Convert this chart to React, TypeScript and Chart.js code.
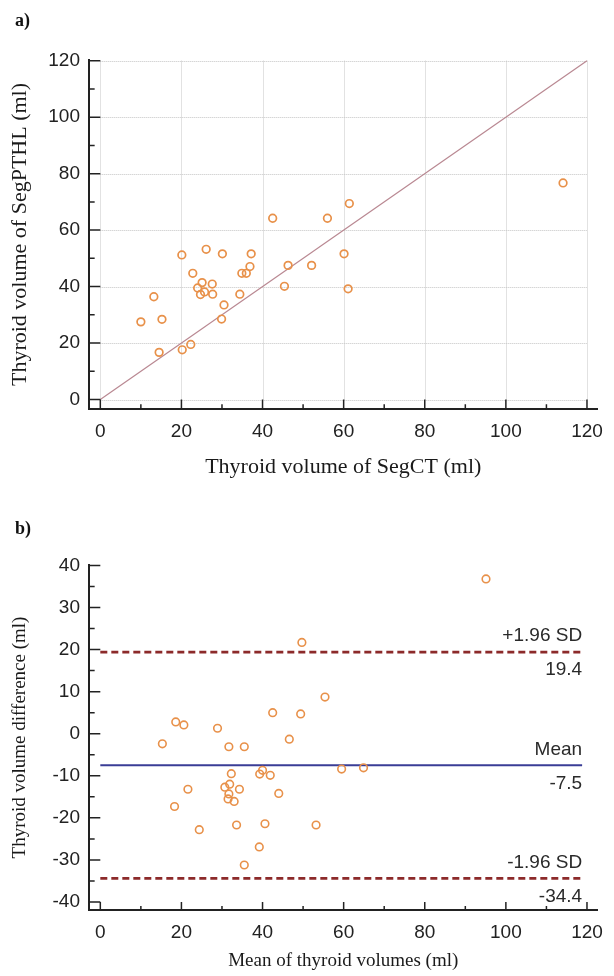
import React, { useEffect, useRef } from 'react';
import { Chart, registerables } from 'chart.js';

Chart.register(...registerables);

// ---------- data (panel a) ----------
const segCT = [61.4, 42.5, 56.0, 20.1, 26.1, 30.1, 37.2, 60.1, 22.8, 34.9, 36.0, 36.9, 46.3, 52.1, 25.1, 27.6, 24.0, 25.7, 24.7, 27.7, 34.4, 45.4, 61.1, 13.2, 30.5, 29.9, 15.2, 10.0, 14.5, 20.2, 22.3, 114.1];
const segPTHL = [69.4, 64.2, 64.2, 51.2, 53.2, 51.6, 51.6, 51.6, 44.7, 44.7, 44.7, 47.1, 47.5, 47.5, 41.4, 40.9, 39.5, 38.1, 37.2, 37.3, 37.3, 40.1, 39.2, 36.4, 33.5, 28.5, 28.4, 27.5, 16.7, 17.6, 19.5, 76.7];
const identityLine = [0, 120];

// ---------- data (panel b) ----------
const meanVolumes = [49.7, 55.4, 42.5, 49.4, 18.6, 20.6, 28.9, 46.6, 15.3, 31.7, 35.5, 32.3, 40.0, 39.3, 41.9, 59.5, 64.9, 21.6, 30.7, 31.9, 34.3, 31.7, 31.5, 33.0, 44.0, 18.3, 24.4, 33.6, 40.6, 53.2, 39.2, 35.5, 95.1];
const diffVolumes = [21.7, 8.7, 5.0, 4.7, 2.8, 2.1, 1.3, -1.3, -2.4, -3.1, -3.1, -9.5, -8.7, -9.6, -9.9, -8.4, -8.1, -13.2, -12.7, -12.0, -13.2, -14.3, -15.5, -16.1, -14.2, -17.3, -22.8, -21.7, -21.4, -21.7, -26.9, -31.2, 36.8];
const limitNames = ['+1.96 SD', 'Mean', '-1.96 SD'];
const limitValues = [19.4, -7.5, -34.4];
const limitLabels = ['19.4', '-7.5', '-34.4'];
const limitSpan = [0, 118.8];

// ---------- ticks ----------
const xTicks = [0, 20, 40, 60, 80, 100, 120];
const xMinorTicks = [10, 30, 50, 70, 90, 110];
const topYTicks = [0, 20, 40, 60, 80, 100, 120];
const topYMinorTicks = [10, 30, 50, 70, 90, 110];
const bottomYTicks = [-40, -30, -20, -10, 0, 10, 20, 30, 40];
const bottomYMinorTicks = [-35, -25, -15, -5, 5, 15, 25, 35];

const SANS = '"Liberation Sans", Arial, sans-serif';
const SERIF = '"Liberation Serif", "Times New Roman", serif';
const ORANGE = '#e8914a';
const AXIS = '#222222';

const axisTicksPlugin = {
  id: 'axisTicks',
  afterDatasetsDraw(chart: any, _a: any, opts: any) {
    const { ctx, chartArea, scales } = chart;
    const xs = scales.x;
    const ys = scales.y;
    const xLen = chartArea.bottom - ys.getPixelForValue(opts.yMajor[0]);
    const yLen = xs.getPixelForValue(opts.xMajor[0]) - chartArea.left;
    ctx.save();
    ctx.strokeStyle = AXIS;
    ctx.lineWidth = 1.5;
    ctx.beginPath();
    const seg = (x1: number, y1: number, x2: number, y2: number) => {
      ctx.moveTo(x1, y1);
      ctx.lineTo(x2, y2);
    };
    opts.xMajor.forEach((v: number) => {
      const p = xs.getPixelForValue(v);
      seg(p, chartArea.bottom, p, chartArea.bottom - xLen);
    });
    opts.xMinor.forEach((v: number) => {
      const p = xs.getPixelForValue(v);
      seg(p, chartArea.bottom, p, chartArea.bottom - xLen * 0.5);
    });
    opts.yMajor.forEach((v: number) => {
      const p = ys.getPixelForValue(v);
      seg(chartArea.left, p, chartArea.left + yLen, p);
    });
    opts.yMinor.forEach((v: number) => {
      const p = ys.getPixelForValue(v);
      seg(chartArea.left, p, chartArea.left + yLen * 0.5, p);
    });
    ctx.stroke();
    ctx.restore();
  },
};

const dottedGridPlugin = {
  id: 'dottedGrid',
  beforeDatasetsDraw(chart: any, _a: any, opts: any) {
    if (!opts || !opts.enabled) return;
    const { ctx, scales } = chart;
    const xs = scales.x;
    const ys = scales.y;
    const xa = xs.getPixelForValue(opts.xTicks[0]);
    const xb = xs.getPixelForValue(opts.xTicks[opts.xTicks.length - 1]);
    const ya = ys.getPixelForValue(opts.yTicks[0]);
    const yb = ys.getPixelForValue(opts.yTicks[opts.yTicks.length - 1]);
    ctx.save();
    ctx.strokeStyle = '#c4c4c4';
    ctx.lineWidth = 1;
    ctx.setLineDash([1, 1]);
    ctx.beginPath();
    opts.xTicks.forEach((v: number) => {
      const p = Math.round(xs.getPixelForValue(v)) + 0.5;
      ctx.moveTo(p, ya);
      ctx.lineTo(p, yb);
    });
    opts.yTicks.forEach((v: number) => {
      const p = Math.round(ys.getPixelForValue(v)) + 0.5;
      ctx.moveTo(xa, p);
      ctx.lineTo(xb, p);
    });
    ctx.stroke();
    ctx.restore();
  },
};

const limitLabelPlugin = {
  id: 'limitLabels',
  afterDatasetsDraw(chart: any, _a: any, opts: any) {
    if (!opts || !opts.enabled) return;
    const { ctx, scales } = chart;
    const xr = scales.x.getPixelForValue(limitSpan[1]);
    ctx.save();
    ctx.fillStyle = '#2a2a2a';
    ctx.font = `19px ${SANS}`;
    ctx.textAlign = 'right';
    ctx.textBaseline = 'middle';
    limitValues.forEach((v, i) => {
      const p = scales.y.getPixelForValue(v);
      ctx.fillText(limitNames[i], xr, p - 16);
      ctx.fillText(limitLabels[i], xr, p + 18);
    });
    ctx.restore();
  },
};

function axisScale(opts: {
  min: number;
  max: number;
  ticks: number[];
  size: number;
  horizontal: boolean;
  title: string;
  titleSize: number;
  titlePadding: any;
  tickPadding: number;
}) {
  return {
    type: 'linear',
    min: opts.min,
    max: opts.max,
    afterBuildTicks: (s: any) => {
      s.ticks = opts.ticks.map((v) => ({ value: v }));
    },
    afterFit: (s: any) => {
      if (opts.horizontal) s.height = opts.size;
      else s.width = opts.size;
    },
    grid: { display: false, drawTicks: false },
    border: { display: true, color: AXIS, width: 2 },
    ticks: {
      padding: opts.tickPadding,
      font: { family: SANS, size: 19 },
      color: '#222',
      autoSkip: false,
      maxRotation: 0,
      callback: (v: any) => String(v),
    },
    title: {
      display: true,
      text: opts.title,
      font: { family: SERIF, size: opts.titleSize },
      color: '#1a1a1a',
      padding: opts.titlePadding,
    },
  };
}

export default function App() {
  const topRef = useRef<HTMLCanvasElement | null>(null);
  const botRef = useRef<HTMLCanvasElement | null>(null);

  useEffect(() => {
    const topChart = new Chart(topRef.current as HTMLCanvasElement, {
      type: 'scatter',
      data: {
        datasets: [
          {
            data: segCT.map((x, i) => ({ x, y: segPTHL[i] })),
            pointRadius: 3.8,
            pointHoverRadius: 3.8,
            pointBorderWidth: 1.7,
            borderColor: ORANGE,
            backgroundColor: 'rgba(255,255,255,0)',
          },
          {
            data: identityLine.map((v) => ({ x: v, y: v })),
            showLine: true,
            borderColor: '#b98892',
            borderWidth: 1.2,
            pointRadius: 0,
          },
        ],
      },
      options: {
        responsive: false,
        animation: false,
        events: [],
        layout: { padding: { top: 60, right: 8, left: 0, bottom: 0 } },
        plugins: {
          legend: { display: false },
          tooltip: { enabled: false },
          axisTicks: { xMajor: xTicks, xMinor: xMinorTicks, yMajor: topYTicks, yMinor: topYMinorTicks },
          dottedGrid: { enabled: true, xTicks, yTicks: topYTicks },
          limitLabels: { enabled: false },
        } as any,
        scales: {
          x: axisScale({
            min: -2.79, max: 122.6, ticks: xTicks, size: 81, horizontal: true,
            title: 'Thyroid volume of SegCT (ml)', titleSize: 22,
            titlePadding: { top: 0, bottom: 10 }, tickPadding: 11,
          }),
          y: axisScale({
            min: -3.36, max: 120.25, ticks: topYTicks, size: 89, horizontal: false,
            title: 'Thyroid volume of SegPTHL (ml)', titleSize: 22,
            titlePadding: { top: 7, bottom: 0 }, tickPadding: 9,
          }),
        } as any,
      },
      plugins: [axisTicksPlugin, dottedGridPlugin, limitLabelPlugin],
    } as any);

    const limitSets = limitValues.map((v, i) => ({
      data: limitSpan.map((x) => ({ x, y: v })),
      showLine: true,
      pointRadius: 0,
      borderColor: i === 1 ? '#3a3d96' : '#8c2a2a',
      borderWidth: i === 1 ? 2.2 : 2.8,
      borderDash: i === 1 ? [] : [7, 4],
    }));

    const botChart = new Chart(botRef.current as HTMLCanvasElement, {
      type: 'scatter',
      data: {
        datasets: [
          {
            data: meanVolumes.map((x, i) => ({ x, y: diffVolumes[i] })),
            pointRadius: 3.8,
            pointHoverRadius: 3.8,
            pointBorderWidth: 1.6,
            borderColor: ORANGE,
            backgroundColor: 'rgba(255,255,255,0)',
          },
          ...limitSets,
        ],
      },
      options: {
        responsive: false,
        animation: false,
        events: [],
        layout: { padding: { top: 75, right: 8, left: 0, bottom: 0 } },
        plugins: {
          legend: { display: false },
          tooltip: { enabled: false },
          axisTicks: { xMajor: xTicks, xMinor: xMinorTicks, yMajor: bottomYTicks, yMinor: bottomYMinorTicks },
          dottedGrid: { enabled: false },
          limitLabels: { enabled: true },
        } as any,
        scales: {
          x: axisScale({
            min: -2.79, max: 122.6, ticks: xTicks, size: 66, horizontal: true,
            title: 'Mean of thyroid volumes (ml)', titleSize: 19,
            titlePadding: { top: 0, bottom: 4 }, tickPadding: 11,
          }),
          y: axisScale({
            min: -41.9, max: 40.1, ticks: bottomYTicks, size: 89, horizontal: false,
            title: 'Thyroid volume difference (ml)', titleSize: 19,
            titlePadding: { top: 9, bottom: 0 }, tickPadding: 9,
          }),
        } as any,
      },
      plugins: [axisTicksPlugin, dottedGridPlugin, limitLabelPlugin],
    } as any);

    return () => {
      topChart.destroy();
      botChart.destroy();
    };
  }, []);

  const panelLabel: React.CSSProperties = {
    position: 'absolute',
    left: 15,
    fontFamily: SERIF,
    fontWeight: 'bold',
    fontSize: 18,
    lineHeight: '20px',
    color: '#111',
  };

  return (
    <div style={{ position: 'fixed', left: 0, top: 0, width: 614, height: 976, background: '#ffffff', overflow: 'hidden' }}>
      <canvas ref={topRef} width={614} height={490} style={{ position: 'absolute', left: 0, top: 0, display: 'block' }} />
      <canvas ref={botRef} width={614} height={486} style={{ position: 'absolute', left: 0, top: 490, display: 'block' }} />
      <div style={{ ...panelLabel, top: 10 }}>a)</div>
      <div style={{ ...panelLabel, top: 518 }}>b)</div>
    </div>
  );
}
